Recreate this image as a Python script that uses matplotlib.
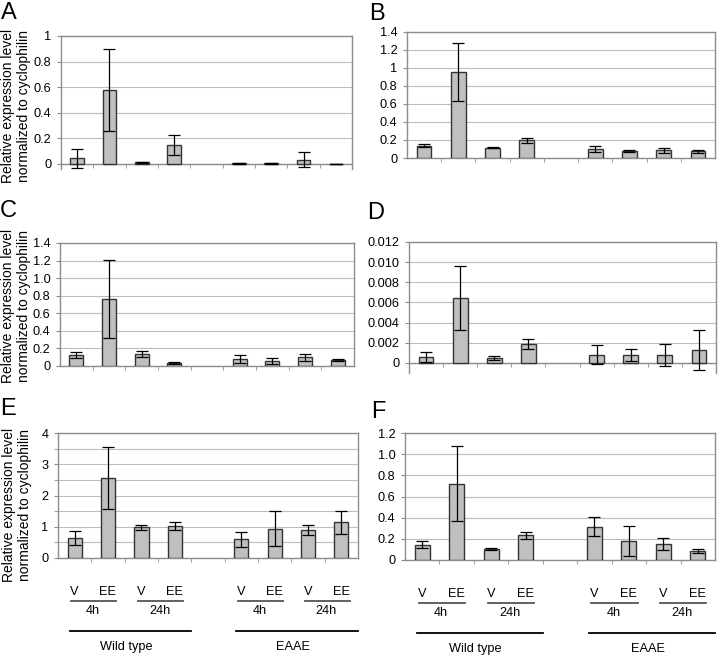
# qPCR bar panels A-F: expression relative to cyclophilin, wild type vs EAAE

import numpy as np
import matplotlib
matplotlib.use("Agg")
import matplotlib.pyplot as plt
from matplotlib.transforms import offset_copy
from matplotlib.lines import Line2D

plt.rcParams['font.family'] = ['Liberation Sans', 'DejaVu Sans']

# data (8 bars per panel: WT 4h V/EE, WT 24h V/EE, EAAE 4h V/EE, EAAE 24h V/EE)
treatments = ["V", "EE", "V", "EE", "V", "EE", "V", "EE"]
times = ["4h", "24h", "4h", "24h"]
groups = ["Wild type", "EAAE"]
ylabel_text = "Relative expression level\nnormalized to cyclophilin"

a_vals = [0.045, 0.575, 0.012, 0.148, 0.005, 0.004, 0.034, 0.002]
a_err = [0.075, 0.32, 0.003, 0.075, 0.002, 0.002, 0.06, 0.001]
a_ticks = [0, 0.2, 0.4, 0.6, 0.8, 1]
a_ticklabels = ["0", "0.2", "0.4", "0.6", "0.8", "1"]

b_vals = [0.138, 0.957, 0.115, 0.197, 0.104, 0.078, 0.086, 0.074]
b_err = [0.015, 0.32, 0.006, 0.028, 0.034, 0.006, 0.028, 0.02]
b_ticks = [0, 0.2, 0.4, 0.6, 0.8, 1, 1.2, 1.4]
b_ticklabels = ["0", "0.2", "0.4", "0.6", "0.8", "1", "1.2", "1.4"]

c_vals = [0.126, 0.763, 0.141, 0.031, 0.084, 0.061, 0.099, 0.069]
c_err = [0.035, 0.445, 0.033, 0.01, 0.045, 0.033, 0.042, 0.015]
c_ticks = [0, 0.2, 0.4, 0.6, 0.8, 1.0, 1.2, 1.4]
c_ticklabels = ["0", "0.2", "0.4", "0.6", "0.8", "1.0", "1.2", "1.4"]

d_vals = [0.00059, 0.00644, 0.00049, 0.00187, 0.00082, 0.00079, 0.00082, 0.00128]
d_err = [0.00045, 0.0032, 0.0002, 0.0005, 0.00097, 0.00062, 0.0011, 0.002]
d_ticks = [0, 0.002, 0.004, 0.006, 0.008, 0.010, 0.012]
d_ticklabels = ["0", "0.002", "0.004", "0.006", "0.008", "0.010", "0.012"]

e_vals = [0.633, 2.563, 0.987, 1.019, 0.60, 0.933, 0.90, 1.137]
e_err = [0.225, 0.99, 0.08, 0.125, 0.235, 0.56, 0.15, 0.38]
e_ticks = [0, 1, 2, 3, 4]
e_ticklabels = ["0", "1", "2", "3", "4"]

f_vals = [0.142, 0.721, 0.104, 0.233, 0.315, 0.18, 0.151, 0.085]
f_err = [0.033, 0.353, 0.008, 0.03, 0.092, 0.14, 0.055, 0.02]
f_ticks = [0, 0.2, 0.4, 0.6, 0.8, 1.0, 1.2]
f_ticklabels = ["0", "0.2", "0.4", "0.6", "0.8", "1.0", "1.2"]

# empty category slot between the two groups
positions = [i if i < 4 else i + 1 for i in range(len(treatments))]

W, H = 720, 655
fig = plt.figure(figsize=(W / 100, H / 100), dpi=100)


def add_axes_px(left, right, top, bottom):
    return fig.add_axes([left / W, 1 - bottom / H, (right - left) / W, (bottom - top) / H])


panels = [
    # letter, box (l, r, t, b) in px, vals, err, ylim, ticks, labels, minor step, ylabel centre, letter pos
    ("A", (61, 352, 36, 169), a_vals, a_err, (-0.04, 1), a_ticks, a_ticklabels, None, (16, 106), (1, 2)),
    ("B", (407, 715, 32, 158), b_vals, b_err, (0, 1.4), b_ticks, b_ticklabels, None, None, (369, 3)),
    ("C", (60, 354, 243, 366), c_vals, c_err, (0, 1.4), c_ticks, c_ticklabels, None, (16, 306), (0, 200)),
    ("D", (409, 716, 242, 373), d_vals, d_err, (-0.001, 0.012), d_ticks, d_ticklabels, None, None, (367, 202)),
    ("E", (58, 358, 433, 558), e_vals, e_err, (0, 4), e_ticks, e_ticklabels, 0.5, (17, 505), (0, 398)),
    ("F", (405, 715, 433, 560), f_vals, f_err, (0, 1.2), f_ticks, f_ticklabels, None, None, (371, 401)),
]

axes = {}
for letter, box, vals, err, ylim, ticks, ticklabels, minor, ylab_pos, lpos in panels:
    ax = add_axes_px(*box)
    axes[letter] = ax
    ax.bar(positions, vals, width=0.43, color="#c0c0c0", edgecolor="#333333",
           linewidth=1.0, zorder=3)
    ax.errorbar(positions, vals, yerr=err, fmt="none", ecolor="black",
                elinewidth=0.9, capsize=4, capthick=0.9, zorder=4)

    ax.set_xlim(-0.5, 8.5)
    ax.set_ylim(*ylim)
    ax.set_yticks(ticks)
    ax.set_yticklabels(ticklabels)
    if minor:
        ax.set_yticks(np.arange(ylim[0], ylim[1] + minor / 2, minor), minor=True)
        ax.yaxis.grid(True, which="minor", color="#bdbdbd", linewidth=0.8, zorder=0)
    ax.yaxis.grid(True, which="major", color="#bdbdbd", linewidth=0.8, zorder=0)
    ax.set_axisbelow(True)

    # category axis sits at zero, tick marks between categories
    ax.spines["bottom"].set_position(("data", 0))
    ax.set_xticks([])
    ax.set_xticks(np.arange(0.5, 8.5, 1.0), minor=True)
    ax.tick_params(axis="x", which="minor", direction="out", length=3, color="#8c8c8c")
    ax.tick_params(axis="y", which="both", direction="out", length=3, color="#8c8c8c",
                   labelsize=9.2, pad=4)
    for s in ax.spines.values():
        s.set_color("#8c8c8c")
        s.set_linewidth(1.0)

    if ylab_pos:
        fig.text(ylab_pos[0] / W, 1 - ylab_pos[1] / H, ylabel_text, rotation=90,
                 ha="center", va="center", multialignment="center",
                 fontsize=10, linespacing=1.25)

    fig.text(lpos[0] / W, 1 - lpos[1] / H, letter, fontsize=17, va="top", ha="left")


# treatment / time / genotype labels under panels E and F
def px_trans(ax, dy):
    return offset_copy(ax.get_xaxis_transform(), fig=fig, x=0, y=-dy, units="dots")


for letter in ["E", "F"]:
    ax = axes[letter]
    for p, t in zip(positions, treatments):
        ax.text(p, 0, t, transform=px_trans(ax, 34), ha="center", va="center",
                fontsize=9.2, clip_on=False)
    for k, tm in enumerate(times):
        x0 = positions[2 * k]
        x1 = positions[2 * k + 1]
        ax.add_line(Line2D([x0 - 0.1, x1 + 0.25], [0, 0], transform=px_trans(ax, 43),
                           color="#555555", linewidth=1.3, clip_on=False))
        ax.text((x0 + x1) / 2 + 0.05, 0, tm, transform=px_trans(ax, 53), ha="center",
                va="center", fontsize=9.2, clip_on=False)
    for g, gname in enumerate(groups):
        x0 = positions[4 * g]
        x1 = positions[4 * g + 3]
        ax.add_line(Line2D([x0 - 0.15, x1 + 0.5], [0, 0], transform=px_trans(ax, 73),
                           color="black", linewidth=1.3, clip_on=False))
        ax.text((x0 + x1) / 2 + 0.05, 0, gname, transform=px_trans(ax, 89), ha="center",
                va="center", fontsize=9.2, clip_on=False)

fig.savefig("out.png", dpi=100)
